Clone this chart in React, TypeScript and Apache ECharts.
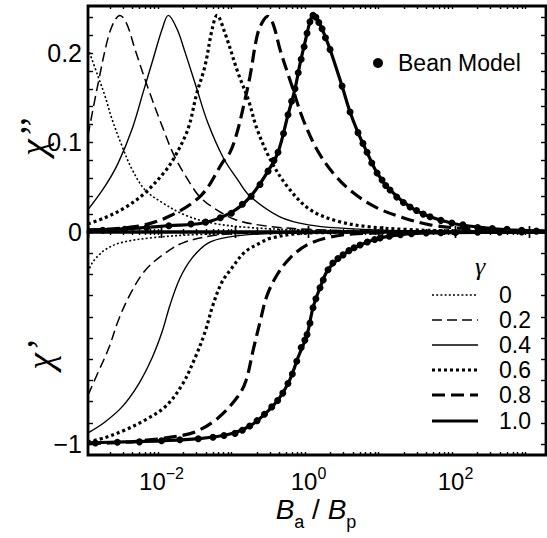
import React, { useEffect, useRef } from "react";
import * as echarts from "echarts";

const SANS = '"Liberation Sans", Arial, Helvetica, sans-serif';
const SERIF = '"Liberation Serif", "DejaVu Serif", serif';

// x range of B_a / B_p
const X_MIN = 0.001;
const X_MAX = 1700;
const xLabelValues = [0.01, 1, 100];
const xMajorTicks = [0.001, 0.01, 0.1, 1, 10, 100, 1000];

const gammaLabels = ["0", "0.2", "0.4", "0.6", "0.8", "1.0"];

// chi'' curves: [log10(Ba/Bp), chi'']
const chi2G00 = [[-3.0, 0.205], [-2.864, 0.174], [-2.769, 0.152], [-2.673, 0.126], [-2.537, 0.096], [-2.401, 0.07], [-2.224, 0.047], [-1.993, 0.033], [-1.68, 0.019], [-1.313, 0.01], [-0.8, 0.005], [0, 0.002], [1, 0.001], [3.23, 0.0003]];
const chi2G02 = [[-3.0, 0.108], [-2.86, 0.167], [-2.73, 0.216], [-2.64, 0.236], [-2.565, 0.242], [-2.47, 0.232], [-2.36, 0.204], [-2.18, 0.16], [-1.99, 0.118], [-1.82, 0.084], [-1.585, 0.051], [-1.476, 0.039], [-1.31, 0.028], [-1.0, 0.014], [-0.6, 0.007], [0, 0.003], [1, 0.001], [3.23, 0.0003]];
const chi2G04 = [[-3.0, 0.025], [-2.77, 0.051], [-2.59, 0.077], [-2.4, 0.115], [-2.25, 0.156], [-2.115, 0.193], [-1.99, 0.227], [-1.907, 0.242], [-1.79, 0.227], [-1.68, 0.201], [-1.52, 0.16], [-1.37, 0.122], [-1.16, 0.083], [-0.96, 0.058], [-0.796, 0.04], [-0.39, 0.017], [0, 0.008], [0.5, 0.004], [1, 0.002], [1.8, 0.001], [3.23, 0.0003]];
const chi2G06 = [[-3.0, 0.009], [-2.77, 0.016], [-2.5, 0.027], [-2.22, 0.044], [-1.95, 0.068], [-1.82, 0.084], [-1.64, 0.115], [-1.52, 0.155], [-1.41, 0.185], [-1.31, 0.227], [-1.245, 0.242], [-1.14, 0.223], [-0.96, 0.178], [-0.82, 0.148], [-0.7, 0.115], [-0.52, 0.081], [-0.29, 0.051], [0.02, 0.025], [0.4, 0.012], [0.8, 0.006], [1.3, 0.003], [2.0, 0.001], [3.23, 0.0003]];
const chi2G08 = [[-3.0, 0.002], [-2.36, 0.006], [-1.91, 0.017], [-1.46, 0.041], [-1.16, 0.079], [-1.068, 0.089], [-0.973, 0.111], [-0.864, 0.148], [-0.796, 0.174], [-0.7, 0.219], [-0.63, 0.234], [-0.555, 0.241], [-0.48, 0.232], [-0.388, 0.204], [-0.225, 0.163], [-0.075, 0.126], [0.116, 0.092], [0.333, 0.066], [0.605, 0.044], [0.932, 0.027], [1.286, 0.016], [1.653, 0.008], [2.1, 0.004], [2.6, 0.002], [3.23, 0.001]];
const chi2G10 = [[-3.0, 0.002], [-2.39, 0.004], [-1.9, 0.007], [-1.435, 0.01], [-1.068, 0.021], [-0.796, 0.039], [-0.551, 0.068], [-0.415, 0.089], [-0.279, 0.131], [-0.184, 0.16], [-0.116, 0.188], [-0.048, 0.212], [0.02, 0.235], [0.061, 0.242], [0.12, 0.238], [0.184, 0.227], [0.293, 0.204], [0.456, 0.163], [0.565, 0.134], [0.673, 0.111], [0.796, 0.089], [0.932, 0.066], [1.109, 0.047], [1.381, 0.028], [1.653, 0.017], [2.0, 0.009], [2.37, 0.005], [2.8, 0.002], [3.23, 0.001]];
const beanChi2 = [[-2.8, 0.002], [-2.5, 0.003], [-2.2, 0.005], [-1.9, 0.007], [-1.6, 0.009], [-1.4, 0.011], [-1.2, 0.016], [-1.05, 0.021], [-0.9, 0.031], [-0.78, 0.04], [-0.66, 0.053], [-0.551, 0.068], [-0.47, 0.08], [-0.415, 0.089], [-0.34, 0.11], [-0.279, 0.131], [-0.23, 0.146], [-0.184, 0.16], [-0.14, 0.178], [-0.1, 0.193], [-0.06, 0.207], [-0.02, 0.222], [0.02, 0.235], [0.061, 0.242], [0.1, 0.24], [0.14, 0.234], [0.184, 0.227], [0.23, 0.217], [0.293, 0.204], [0.456, 0.163], [0.565, 0.134], [0.673, 0.111], [0.74, 0.099], [0.796, 0.089], [0.86, 0.077], [0.932, 0.066], [1.0, 0.058], [1.05, 0.052], [1.109, 0.047], [1.2, 0.039], [1.29, 0.033], [1.381, 0.028], [1.47, 0.024], [1.56, 0.02], [1.653, 0.017], [1.8, 0.013], [1.95, 0.01], [2.1, 0.008], [2.3, 0.005], [2.5, 0.004], [2.7, 0.003], [2.9, 0.002], [3.1, 0.001]];

// chi' curves: [log10(Ba/Bp), chi']
const chi1G00 = [[-3.0, -0.19], [-2.95, -0.15], [-2.87, -0.115], [-2.75, -0.08], [-2.55, -0.05], [-2.1, -0.026], [-1.5, -0.012], [-0.5, -0.004], [1.0, -0.001], [3.23, 0]];
const chi1G02 = [[-3.0, -0.77], [-2.86, -0.66], [-2.72, -0.55], [-2.58, -0.41], [-2.42, -0.29], [-2.22, -0.18], [-1.95, -0.1], [-1.7, -0.05], [-1.3, -0.017], [-0.9, -0.006], [0, -0.001], [3.23, 0]];
const chi1G04 = [[-3.0, -0.948], [-2.769, -0.896], [-2.537, -0.825], [-2.32, -0.722], [-2.129, -0.594], [-1.993, -0.472], [-1.884, -0.344], [-1.748, -0.217], [-1.585, -0.123], [-1.367, -0.052], [-1.095, -0.024], [-0.6, -0.008], [0.5, -0.002], [3.23, 0]];
const chi1G06 = [[-3.0, -0.99], [-2.769, -0.97], [-2.497, -0.934], [-2.224, -0.887], [-1.952, -0.825], [-1.721, -0.722], [-1.544, -0.594], [-1.408, -0.472], [-1.3, -0.344], [-1.177, -0.236], [-1.054, -0.175], [-0.864, -0.094], [-0.633, -0.047], [-0.524, -0.03], [-0.156, -0.008], [0.5, -0.002], [3.23, 0]];
const chi1G08 = [[-3.0, -0.998], [-2.5, -0.992], [-2.2, -0.982], [-1.912, -0.97], [-1.544, -0.943], [-1.231, -0.877], [-0.959, -0.775], [-0.85, -0.7], [-0.755, -0.56], [-0.66, -0.425], [-0.565, -0.3], [-0.429, -0.203], [-0.252, -0.123], [-0.02, -0.061], [0.293, -0.024], [0.66, -0.008], [1.5, -0.002], [3.23, 0]];
const chi1G10 = [[-3.0, -0.995], [-2.5, -0.99], [-2.0, -0.985], [-1.5, -0.975], [-1.068, -0.953], [-0.796, -0.915], [-0.551, -0.845], [-0.388, -0.779], [-0.252, -0.695], [-0.143, -0.592], [-0.02, -0.484], [0.061, -0.357], [0.156, -0.263], [0.265, -0.178], [0.469, -0.108], [0.701, -0.061], [0.973, -0.028], [1.34, -0.009], [1.653, -0.004], [2.5, -0.001], [3.23, 0]];
const beanChi1 = [[-2.9, -0.995], [-2.6, -0.992], [-2.3, -0.99], [-2.0, -0.985], [-1.75, -0.98], [-1.5, -0.975], [-1.3, -0.968], [-1.15, -0.96], [-1.0, -0.95], [-0.9, -0.935], [-0.8, -0.915], [-0.7, -0.89], [-0.6, -0.86], [-0.5, -0.825], [-0.42, -0.795], [-0.35, -0.76], [-0.28, -0.715], [-0.22, -0.67], [-0.16, -0.61], [-0.1, -0.545], [-0.05, -0.51], [-0.02, -0.484], [0.02, -0.43], [0.061, -0.357], [0.1, -0.315], [0.156, -0.263], [0.2, -0.226], [0.265, -0.178], [0.33, -0.146], [0.4, -0.125], [0.469, -0.108], [0.55, -0.088], [0.62, -0.074], [0.701, -0.061], [0.8, -0.047], [0.9, -0.035], [0.973, -0.028], [1.1, -0.02], [1.25, -0.013], [1.4, -0.008], [1.6, -0.005], [1.8, -0.003], [2.0, -0.002], [2.3, -0.001], [2.6, -0.0005], [2.9, -0.0003]];

const chi2Curves = [chi2G00, chi2G02, chi2G04, chi2G06, chi2G08, chi2G10];
const chi1Curves = [chi1G00, chi1G02, chi1G04, chi1G06, chi1G08, chi1G10];

const curveStyles: { width: number; type: any }[] = [
  { width: 1.6, type: [2, 2.2] },
  { width: 1.5, type: [10, 5] },
  { width: 1.4, type: "solid" },
  { width: 3.2, type: [3, 3] },
  { width: 3.2, type: [13, 6] },
  { width: 3.2, type: "solid" },
];

const xMinorTicks: number[] = [];
for (let e = -3; e <= 3; e++) {
  for (let m = 2; m <= 9; m++) {
    const v = +(m * Math.pow(10, e)).toPrecision(3);
    if (v < X_MAX) xMinorTicks.push(v);
  }
}
const topYTicks = Array.from({ length: 13 }, (_, i) => +(i * 0.02).toFixed(2));
const bottomYTicks = Array.from({ length: 11 }, (_, i) => +(-1 + i * 0.1).toFixed(1));

const toXY = (pts: number[][]) => pts.map(([lx, v]) => [Math.pow(10, lx), v]);

function xAxisDef(gridIndex: number, position: string, ticks: number[], len: number, labels = false): any {
  return {
    type: "log",
    logBase: 10,
    gridIndex,
    position,
    min: X_MIN,
    max: X_MAX,
    axisLine: { show: false },
    splitLine: { show: false },
    axisTick: { show: true, inside: true, length: len, customValues: ticks, lineStyle: { color: "#000", width: 1.4 } },
    axisLabel: labels
      ? {
          show: true,
          customValues: xLabelValues,
          margin: 10,
          formatter: (v: number) => {
            const e = Math.round(Math.log10(v));
            return `{b|10}{s|${e < 0 ? "\u2212" : ""}${Math.abs(e)}}`;
          },
          rich: {
            b: { fontSize: 24, fontFamily: SANS, color: "#000", lineHeight: 32 },
            s: { fontSize: 16, fontFamily: SANS, color: "#000", lineHeight: 16, verticalAlign: "top" },
          },
        }
      : { show: false },
  };
}

function yAxisDef(gridIndex: number, position: string, min: number, max: number, ticks: number[], labels: number[] | null): any {
  return {
    type: "value",
    gridIndex,
    position,
    min,
    max,
    axisLine: { show: false },
    splitLine: { show: false },
    axisTick: { show: true, inside: true, length: 5, customValues: ticks, lineStyle: { color: "#000", width: 1.4 } },
    axisLabel: labels
      ? {
          show: true,
          customValues: labels,
          margin: 6,
          fontSize: 25,
          fontFamily: SANS,
          color: "#000",
          formatter: (v: number) => (v < 0 ? "\u2212" + String(Math.abs(v)) : String(v)),
        }
      : { show: false },
  };
}

export default function App() {
  const ref = useRef<HTMLDivElement>(null);
  useEffect(() => {
    const chart = echarts.init(ref.current!, null, { renderer: "svg" });
    const series: any[] = [];
    chi2Curves.forEach((c, i) => {
      series.push({
        type: "line",
        name: "chi2 " + gammaLabels[i],
        xAxisIndex: 0,
        yAxisIndex: 0,
        data: toXY(c),
        symbol: "none",
        smooth: 0.35,
        lineStyle: { color: "#000", width: curveStyles[i].width, type: curveStyles[i].type, cap: "butt" },
        silent: true,
        z: 2 + i,
      });
    });
    chi1Curves.forEach((c, i) => {
      series.push({
        type: "line",
        name: "chi1 " + gammaLabels[i],
        xAxisIndex: 4,
        yAxisIndex: 2,
        data: toXY(c),
        symbol: "none",
        smooth: 0.35,
        lineStyle: { color: "#000", width: curveStyles[i].width, type: curveStyles[i].type, cap: "butt" },
        silent: true,
        z: 2 + i,
      });
    });
    series.push({
      type: "scatter",
      name: "Bean Model",
      xAxisIndex: 0,
      yAxisIndex: 0,
      data: toXY(beanChi2),
      symbol: "circle",
      symbolSize: 7,
      itemStyle: { color: "#000", opacity: 1 },
      silent: true,
      z: 10,
    });
    series.push({
      type: "scatter",
      name: "Bean Model ",
      xAxisIndex: 4,
      yAxisIndex: 2,
      data: toXY(beanChi1),
      symbol: "circle",
      symbolSize: 7,
      itemStyle: { color: "#000", opacity: 1 },
      silent: true,
      z: 10,
    });

    const rowY = [295, 320, 345, 370, 395, 421];
    const legendEls: any[] = [];
    gammaLabels.forEach((lab, i) => {
      const st = curveStyles[i];
      legendEls.push({
        type: "line",
        shape: { x1: 432, y1: rowY[i], x2: 478, y2: rowY[i] },
        style: { stroke: "#000", lineWidth: st.width, lineDash: st.type === "solid" ? null : st.type },
      });
      legendEls.push({
        type: "text",
        x: 499,
        y: rowY[i],
        style: { text: lab, font: `23px ${SANS}`, fill: "#000", align: "left", textAlign: "left", verticalAlign: "middle", textVerticalAlign: "middle" },
      });
    });

    const option: any = {
      animation: false,
      backgroundColor: "#fff",
      textStyle: { fontFamily: SANS },
      grid: [
        { left: 88, right: 1, top: 6, height: 226, show: true, borderColor: "#000", borderWidth: 2.8, backgroundColor: "transparent" },
        { left: 88, right: 1, top: 232, height: 223, show: true, borderColor: "#000", borderWidth: 2.8, backgroundColor: "transparent" },
      ],
      xAxis: [
        xAxisDef(0, "bottom", xMajorTicks, 6),
        xAxisDef(0, "top", xMajorTicks, 6),
        xAxisDef(0, "bottom", xMinorTicks, 3),
        xAxisDef(0, "top", xMinorTicks, 3),
        xAxisDef(1, "bottom", xMajorTicks, 6, true),
        xAxisDef(1, "top", xMajorTicks, 6),
        xAxisDef(1, "bottom", xMinorTicks, 3),
        xAxisDef(1, "top", xMinorTicks, 3),
      ],
      yAxis: [
        yAxisDef(0, "left", 0, 0.2525, topYTicks, [0, 0.1, 0.2]),
        yAxisDef(0, "right", 0, 0.2525, topYTicks, null),
        yAxisDef(1, "left", -1.052, 0, bottomYTicks, [-1]),
        yAxisDef(1, "right", -1.052, 0, bottomYTicks, null),
      ],
      series,
      graphic: [
        {
          type: "text",
          x: 33,
          y: 137,
          rotation: Math.PI / 2,
          style: { text: "\u03C7\u2019\u2019", font: `italic 38px ${SERIF}`, fill: "#000", align: "center", textAlign: "center", verticalAlign: "middle", textVerticalAlign: "middle" },
        },
        {
          type: "text",
          x: 40,
          y: 355,
          rotation: Math.PI / 2,
          style: { text: "\u03C7\u2019", font: `italic 38px ${SERIF}`, fill: "#000", align: "center", textAlign: "center", verticalAlign: "middle", textVerticalAlign: "middle" },
        },
        {
          type: "text",
          x: 316,
          y: 509,
          style: {
            text: "{i|B}{s|a}{n| / }{i|B}{s|p}",
            align: "center",
            textAlign: "center",
            verticalAlign: "middle",
            textVerticalAlign: "middle",
            rich: {
              i: { fontFamily: SANS, fontStyle: "italic", fontSize: 28, lineHeight: 44, fill: "#000", color: "#000" },
              n: { fontFamily: SANS, fontSize: 28, lineHeight: 44, fill: "#000", color: "#000" },
              s: { fontFamily: SANS, fontSize: 18, lineHeight: 18, verticalAlign: "bottom", fill: "#000", color: "#000" },
            },
          },
        },
        { type: "circle", shape: { cx: 378, cy: 63, r: 5 }, style: { fill: "#000" } },
        {
          type: "text",
          x: 398,
          y: 63,
          style: { text: "Bean Model", font: `23px ${SANS}`, fill: "#000", align: "left", textAlign: "left", verticalAlign: "middle", textVerticalAlign: "middle" },
        },
        {
          type: "text",
          x: 480,
          y: 266,
          style: { text: "\u03B3", font: `italic 26px ${SERIF}`, fill: "#000", align: "center", textAlign: "center", verticalAlign: "middle", textVerticalAlign: "middle" },
        },
        ...legendEls,
      ],
    };
    chart.setOption(option);
    return () => chart.dispose();
  }, []);
  return <div ref={ref} style={{ position: "absolute", left: 0, top: 0, width: 547, height: 538 }} />;
}
